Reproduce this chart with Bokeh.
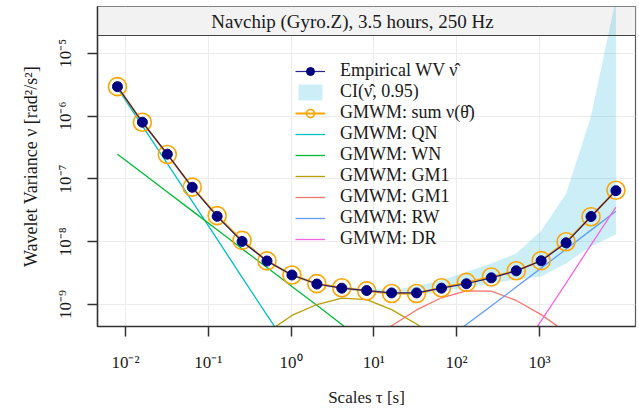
from bokeh.plotting import figure
from bokeh.models import Range1d, FixedTicker, Legend, LegendItem, Span
from bokeh.embed import file_html
from bokeh.resources import INLINE
from bokeh.core.properties import value

# ---------------- data ----------------
scales = [0.008, 0.016, 0.032, 0.064, 0.128, 0.256, 0.512, 1.024, 2.048, 4.096,
          8.192, 16.384, 32.768, 65.536, 131.072, 262.144, 524.288, 1048.576,
          2097.152, 4194.304, 8388.608]

empirical_wv = [2.95e-6, 8.0e-7, 2.48e-7, 7.35e-8, 2.54e-8, 1.01e-8, 4.93e-9, 2.95e-9,
                2.12e-9, 1.82e-9, 1.67e-9, 1.53e-9, 1.53e-9, 1.82e-9, 2.14e-9, 2.66e-9,
                3.44e-9, 4.97e-9, 9.6e-9, 2.52e-8, 6.5e-8]

ci_low = [2.85e-6, 7.7e-7, 2.38e-7, 7.05e-8, 2.43e-8, 9.65e-9, 4.7e-9, 2.8e-9,
          2.0e-9, 1.72e-9, 1.56e-9, 1.42e-9, 1.42e-9, 1.62e-9, 1.85e-9, 2.2e-9,
          2.5e-9, 2.8e-9, 4.5e-9, 8.5e-9, 1.3e-8]

ci_high = [3.05e-6, 8.3e-7, 2.58e-7, 7.65e-8, 2.65e-8, 1.06e-8, 5.18e-9, 3.12e-9,
           2.25e-9, 1.94e-9, 1.8e-9, 1.7e-9, 1.95e-9, 2.45e-9, 3.3e-9, 4.5e-9,
           6.5e-9, 1.5e-8, 5.8e-8, 1.0e-6, 7.5e-5]

gmwm_sum = [2.95e-6, 8.0e-7, 2.45e-7, 7.4e-8, 2.6e-8, 1.05e-8, 4.95e-9, 2.95e-9,
            2.15e-9, 1.85e-9, 1.65e-9, 1.5e-9, 1.5e-9, 1.85e-9, 2.25e-9, 2.75e-9,
            3.45e-9, 5.0e-9, 1.0e-8, 2.5e-8, 6.6e-8]

gmwm_qn = [2.8e-6, 7.0e-7, 1.75e-7, 4.4e-8, 1.1e-8, 2.7e-9, 6.8e-10, 1.7e-10,
           4.3e-11, 1.1e-11, 2.7e-12, 6.7e-13, 1.7e-13, 4.2e-14, 1.0e-14, 2.6e-15,
           6.5e-16, 1.6e-16, 4.1e-17, 1.0e-17, 2.5e-18]

gmwm_wn = [2.48e-7, 1.24e-7, 6.2e-8, 3.1e-8, 1.55e-8, 7.7e-9, 3.9e-9, 1.94e-9,
           9.7e-10, 4.8e-10, 2.4e-10, 1.2e-10, 6.0e-11, 3.0e-11, 1.5e-11, 7.6e-12,
           3.8e-12, 1.9e-12, 9.5e-13, 4.7e-13, 2.4e-13]

gmwm_gm1_a = [5.6e-12, 1.1e-11, 2.2e-11, 4.5e-11, 9.0e-11, 1.8e-10, 3.6e-10, 6.7e-10,
              1.0e-9, 1.26e-9, 1.2e-9, 8.3e-10, 4.9e-10, 2.5e-10, 1.25e-10, 6.3e-11,
              3.1e-11, 1.6e-11, 7.8e-12, 3.9e-12, 2.0e-12]

gmwm_gm1_b = [2.1e-13, 4.3e-13, 8.6e-13, 1.7e-12, 3.4e-12, 6.9e-12, 1.4e-11, 2.7e-11,
              5.5e-11, 1.1e-10, 2.3e-10, 4.6e-10, 8.2e-10, 1.28e-9, 1.65e-9, 1.63e-9,
              1.16e-9, 6.9e-10, 3.6e-10, 1.8e-10, 9.0e-11]

gmwm_rw = [2.9e-14, 5.8e-14, 1.16e-13, 2.3e-13, 4.7e-13, 9.3e-13, 1.86e-12, 3.7e-12,
           7.5e-12, 1.5e-11, 3.0e-11, 6.0e-11, 1.2e-10, 2.4e-10, 4.8e-10, 9.5e-10,
           1.9e-9, 3.8e-9, 7.6e-9, 1.53e-8, 3.05e-8]

gmwm_dr = [3.2e-20, 1.3e-19, 5.2e-19, 2.1e-18, 8.3e-18, 3.3e-17, 1.3e-16, 5.3e-16,
           2.1e-15, 8.5e-15, 3.4e-14, 1.4e-13, 5.4e-13, 2.2e-12, 8.7e-12, 3.5e-11,
           1.4e-10, 5.5e-10, 2.2e-9, 8.9e-9, 3.55e-8]

x_ticks = [0.01, 0.1, 1, 10, 100, 1000]
x_tick_labels = ["10\u207b\u00b2", "10\u207b\u00b9", "10\u2070", "10\u00b9", "10\u00b2", "10\u00b3"]
y_ticks = [1e-9, 1e-8, 1e-7, 1e-6, 1e-5]
y_tick_labels = ["10\u207b\u2079", "10\u207b\u2078", "10\u207b\u2077", "10\u207b\u2076", "10\u207b\u2075"]

title_text = ["Navchip (Gyro.Z), 3.5 hours, 250 Hz"]
x_label = "Scales \u03c4 [s]"
y_label = "Wavelet Variance \u03bd [rad\u00b2/s\u00b2]"
component_names = ["GMWM: QN", "GMWM: WN", "GMWM: GM1", "GMWM: GM1", "GMWM: RW", "GMWM: DR"]
component_colors = ["#00BFC4", "#00BA38", "#B79F00", "#F8766D", "#619CFF", "#F564E3"]
components = [gmwm_qn, gmwm_wn, gmwm_gm1_a, gmwm_gm1_b, gmwm_rw, gmwm_dr]

# ---------------- layout constants ----------------
W, H = 639, 413
MB_LEFT, MB_RIGHT, MB_TOP, MB_BOTTOM = 97, 4, 6, 87
X0, X1 = 10 ** -2.338, 10 ** 4.16
Y0, Y1 = 10 ** -9.35, 10 ** -4.254
STRIP_BOTTOM = 10 ** -4.716
TITLE_X = [10 ** 0.742]
TITLE_Y = [10 ** -4.485]
FONT = "Liberation Serif"

p = figure(width=W, height=H, x_axis_type="log", y_axis_type="log",
           x_range=Range1d(X0, X1), y_range=Range1d(Y0, Y1),
           output_backend="svg", toolbar_location=None,
           min_border_left=MB_LEFT, min_border_right=MB_RIGHT,
           min_border_top=MB_TOP, min_border_bottom=MB_BOTTOM)

p.background_fill_color = "white"
p.border_fill_color = "white"
p.outline_line_color = "#5a5a5a"
p.outline_line_width = 1.2

# grid
p.xgrid.ticker = FixedTicker(ticks=x_ticks)
p.ygrid.ticker = FixedTicker(ticks=y_ticks)
for g in (p.xgrid, p.ygrid):
    g.grid_line_color = "#ececec"
    g.grid_line_width = 1
    g.minor_grid_line_color = None

# axes
p.xaxis.ticker = FixedTicker(ticks=x_ticks)
p.yaxis.ticker = FixedTicker(ticks=y_ticks)
p.xaxis.major_label_overrides = {t: l for t, l in zip(x_ticks, x_tick_labels)}
p.yaxis.major_label_overrides = {t: l for t, l in zip(y_ticks, y_tick_labels)}
p.yaxis.major_label_orientation = "vertical"
for ax in (p.xaxis, p.yaxis):
    ax.axis_line_color = "#333333"
    ax.axis_line_width = 1.5
    ax.major_tick_line_color = "#333333"
    ax.major_tick_line_width = 1.5
    ax.major_tick_out = 10
    ax.major_tick_in = 0
    ax.minor_tick_line_color = None
    ax.major_label_text_font = FONT
    ax.major_label_text_font_size = "17px"
    ax.major_label_text_color = "#1a1a1a"
    ax.axis_label_text_font = FONT
    ax.axis_label_text_font_style = "normal"
    ax.axis_label_text_color = "#1a1a1a"
p.xaxis.axis_label_text_font_size = "17px"
p.yaxis.axis_label_text_font_size = "18px"
p.xaxis.major_label_standoff = 16
p.yaxis.major_label_standoff = 12
p.xaxis.axis_label = x_label
p.yaxis.axis_label = y_label
p.xaxis.axis_label_standoff = 13
p.yaxis.axis_label_standoff = 13

# strip (facet title) background
p.quad(left=[X0], right=[X1], bottom=[STRIP_BOTTOM], top=[Y1],
       fill_color="#f2f2f2", line_color=None)

# confidence band
band = p.varea(x=scales, y1=ci_low, y2=ci_high, fill_color="#00b0d8", fill_alpha=0.2)

# components
comp_renderers = []
for vals, col in zip(components, component_colors):
    r = p.line(scales, vals, line_color=col, line_width=1.3)
    comp_renderers.append(r)

# GMWM sum
sum_line = p.line(scales, gmwm_sum, line_color="#FFA500", line_width=2)
sum_pts = p.scatter(scales, gmwm_sum, marker="circle", size=18, fill_color=None,
                    line_color="#FFA500", line_width=1.6)

# empirical WV
emp_line = p.line(scales, empirical_wv, line_color="#000080", line_width=1.2, line_alpha=0.85)
emp_pts = p.scatter(scales, empirical_wv, marker="circle", size=10,
                    fill_color="#000080", line_color="#000080")

# strip border + title
p.add_layout(Span(location=STRIP_BOTTOM, dimension="width", line_color="#444444",
                  line_width=1.2))
p.text(x=TITLE_X, y=TITLE_Y, text=title_text, text_font=value(FONT),
       text_font_size="19px", text_align="center", text_baseline="middle",
       text_color="#1a1a1a")

# legend
items = [
    LegendItem(label="Empirical WV \u03bd\u0302", renderers=[emp_line, emp_pts]),
    LegendItem(label="CI(\u03bd\u0302, 0.95)", renderers=[band]),
    LegendItem(label="GMWM: sum \u03bd(\u03b8\u0302)", renderers=[sum_line, sum_pts]),
]
for name, r in zip(component_names, comp_renderers):
    items.append(LegendItem(label=name, renderers=[r]))

legend = Legend(items=items, location=(198, 77), padding=0, margin=0,
                spacing=0, glyph_width=30, glyph_height=20, label_height=20,
                label_standoff=15, border_line_alpha=0, background_fill_alpha=0,
                label_text_font=FONT, label_text_font_size="18px",
                label_text_color="#1a1a1a")
p.add_layout(legend)

open("out.html", "w").write(file_html(p, INLINE))
